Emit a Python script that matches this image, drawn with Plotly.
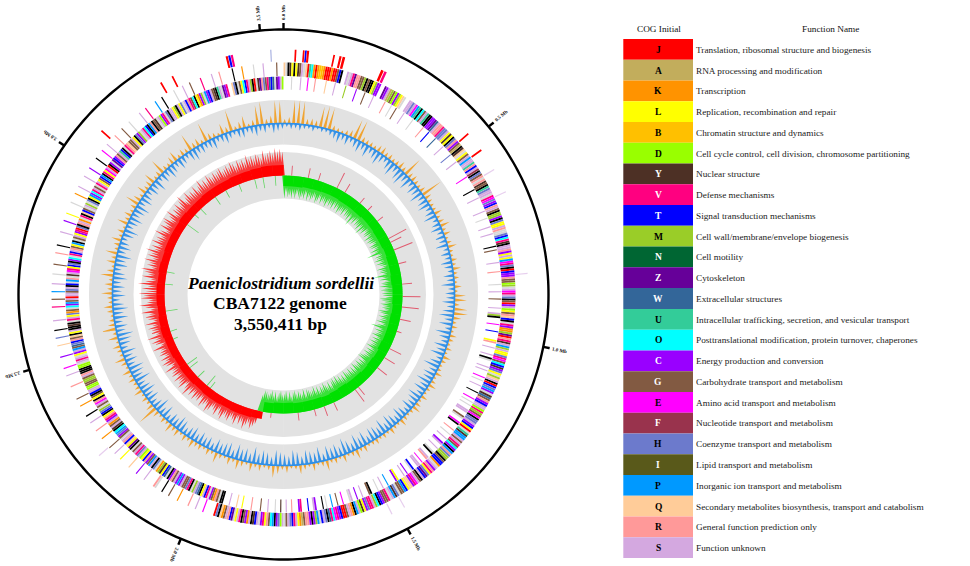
import math
import plotly.graph_objects as go

GENOME_KB = 3550.411
W, H = 970, 566
CX, CY = 283.5, 294.5

# ---------- legend table ----------
cog_letters = list("JAKLBDYVTMNZWUOCGEFHIPQRS")
cog_names = [
    "Translation, ribosomal structure and biogenesis", "RNA processing and modification", "Transcription",
    "Replication, recombination and repair", "Chromatin structure and dynamics",
    "Cell cycle control, cell division, chromosome partitioning", "Nuclear structure", "Defense mechanisms",
    "Signal transduction mechanisms", "Cell wall/membrane/envelope biogenesis", "Cell motility", "Cytoskeleton",
    "Extracellular structures", "Intracellular trafficking, secretion, and vesicular transport",
    "Posttranslational modification, protein turnover, chaperones", "Energy production and conversion",
    "Carbohydrate transport and metabolism", "Amino acid transport and metabolism",
    "Nucleotide transport and metabolism", "Coenzyme transport and metabolism", "Lipid transport and metabolism",
    "Inorganic ion transport and metabolism", "Secondary metabolites biosynthesis, transport and catabolism",
    "General function prediction only", "Function unknown",
]
cog_colors = ["#FF0000", "#C2AD5C", "#FF9300", "#FFFF00", "#FFC000", "#99FF00", "#4D3025", "#FF0080", "#0000FF",
              "#9ACD28", "#006633", "#660099", "#336699", "#33CC99", "#00FFFF", "#9900FF", "#825A42", "#FF00FF",
              "#99334D", "#6C7ACC", "#59591A", "#0099FF", "#FFCC99", "#FF9999", "#D4A8E0"]
cog_light_text = set("YVTNZWCGFI")
extra_colors = {"X": "#000000", "w": "#D8D8D8"}

# ---------- genome position ticks ----------
tick_kb = [0, 500, 1000, 1500, 2000, 2500, 3000, 3500]
tick_text = ["0.0 Mb", "0.5 Mb", "1.0 Mb", "1.5 Mb", "2.0 Mb", "2.5 Mb", "3.0 Mb", "3.5 Mb"]

# ---------- very sparse outermost track: position kb, length kb, class ----------
rna_kb = [28, 47, 52, 57, 118, 133, 141, 235, 243, 483, 531, 3418, 3424, 3430, 3254, 3284, 3077, 3521, 585, 643, 839, 2257, 1516, 1483]
rna_len = [4, 4, 4, 5, 4, 5, 6, 6, 6, 4, 4, 5, 5, 5, 4, 4, 4, 2, 2, 2, 2, 2, 2, 2]
rna_cog = list("JJTJJJJJVJJJTVJJJHSSSSSS")

# ---------- COG classes per 0.5 degree bin, one row per 30 degrees ----------
fwd_rows = [
    "QwXYLXLYGSwQJUOKJKBBKJJJKJJGTX  SwSVZRRGGMXGXXLMCC  ZCSAMGDC",
    "MLQw  SSHSEPUXOGSUXXCCZWSRRVHHSLYLXHRCGAXYQwLGSPSSURTSFXHGRw",
    "RYGXUHSSwVEHCTRSGXMMCXHLLSRwwHTOVYXSSRCLSLPEVHXJTCCRGGDMwSEV",
    "SHXGJCSDLGRQTXwVCKKMZJRVYSPMSLLHVEGOTYCHLwMQSXJTHPCwYWGRCTSS",
    "DVMGEXHHSCTLJwUYPPSGSVGOCXPRHMMXGTTKwSCRVLHZTSXGSEVCQQLTPGGw",
    "HYPSwVGGCTXOMSVVHCLYDSPXKRSGJJTCVEOVWXHSTwPMCXCRRGAKLSVTHSGw",
    "SDHCXPOGRLVCwSTYXSKCGXVSLwZTRSGKQXHJ     E   S   R     K    G",
    "   X   wR     S    C    Q     L   S   G     K    R    S   X   ",
    "  K   G      R     S   E     C     Q   H   X    S      V   G  ",
    " P   S    w    G     R   X      S     C   L     w    K   S    ",
    " S    C     X    E   S     R    G    w      S   V     P   X   ",
    "   w    S   G     V     S   R      X    K     w    S      G   ",
]
rev_rows = [
    "    w    S   E   R     Q    S     M     C    G    S      R   w",
    "  G    S     w      R   T    W     S     H    S         E     ",
    "  X    S       S   w    S   S      X G      S    R      w   S ",
    "  G    S  SMX   E   T    LR  S   S Xw   S S   E w  S   X   E w",
    " w  SS  Gw  EX   R  w  S  CS  S  wX  SR  E SS  Tw  C S   LC  ",
    "  P  S  w   XG   S  C  Sw   E  G  P  w X   CS  T   VC   R  S ",
    " Y  w   S   G    R    L  Q   S   XXwGRKGCwVTSLXWHSMwXVHGGSCPC",
    "SGRCXwWTLYMKwHXSPGCRTLDSHVSGwXZLQTRSwGCHPOXYSGKSCVRLXTHMwGSE",
    "RXLGXTSSDDGGMMGSRXXXDDwSVSwLCSPGWHTRGQXLSXXYXwVSLHKGwOCPGSJS",
    "SGHSXTwPRwYSEVLTHXCOwVTSRGLPXwGSLCVJHXRSKwVXQTGwSMwHXLPCOVSG",
    "wVSLGTPXVLESJXCwZTCRGSUTXwVRQGGSLXHCMwSVOTXPRXGYwSDCVwHXSSLM",
    "XSLHwSTRVGOXLKCMwPCTSGYXUSwZCV  QHXwGLOTVSMXJwYZRHGVWTWwZCSD",
]

# ---------- GC content track: excursion above and below the mean, one value per 1.5 degrees ----------
gc_up = [
    4, 6, 23, 24, 23, 6, 7, 6, 21, 23, 22, 5, 4, 3, 5, 7, 20, 21, 6, 5,
    5, 4, 7, 8, 5, 6, 4, 5, 8, 5, 20, 6, 7, 5, 4, 6, 22, 7, 5, 4,
    4, 8, 4, 6, 10, 4, 7, 3, 5, 9, 4, 3, 6, 4, 8, 4, 5, 3, 7, 3,
    11, 12, 5, 13, 14, 8, 4, 6, 3, 7, 5, 3, 6, 3, 8, 5, 3, 4, 7, 3,
    5, 8, 4, 3, 7, 3, 6, 9, 4, 3, 5, 8, 3, 4, 7, 3, 5, 3, 6, 4,
    3, 7, 4, 10, 5, 3, 8, 3, 6, 4, 11, 5, 3, 8, 3, 5, 9, 4, 3, 7,
    4, 8, 12, 5, 3, 7, 4, 9, 3, 6, 10, 4, 8, 3, 5, 11, 4, 7, 3, 6,
    5, 9, 4, 7, 3, 8, 5, 10, 4, 6, 3, 7, 21, 8, 4, 6, 3, 9, 5, 4,
    7, 4, 9, 3, 6, 11, 4, 5, 8, 3, 10, 4, 15, 7, 5, 3, 6, 9, 4, 5,
    11, 5, 8, 4, 13, 7, 3, 9, 5, 12, 4, 6, 10, 4, 7, 3, 11, 5, 8, 4,
    6, 14, 8, 4, 10, 5, 7, 12, 4, 6, 16, 5, 4, 8, 11, 4, 7, 5, 18, 6,
    8, 4, 20, 7, 5, 3, 11, 6, 22, 4, 7, 12, 3, 6, 20, 23, 5, 8, 23, 22,
]
gc_down = [
    4, 6, 5, 7, 5, 4, 6, 3, 5, 4, 6, 8, 11, 7, 10, 6, 9, 12, 8, 13,
    7, 10, 14, 9, 6, 11, 15, 8, 13, 16, 9, 14, 7, 12, 10, 15, 8, 11, 13, 7,
    10, 14, 6, 9, 12, 7, 11, 8, 13, 6, 10, 7, 12, 9, 6, 11, 8, 14, 7, 10,
    9, 13, 8, 12, 15, 9, 14, 7, 16, 11, 8, 14, 10, 15, 7, 12, 17, 9, 13, 11,
    16, 10, 14, 8, 15, 12, 9, 13, 7, 11, 14, 8, 12, 15, 9, 16, 10, 13, 14, 8,
    15, 11, 16, 9, 13, 17, 10, 14, 12, 15, 8, 16, 11, 13, 15, 9, 14, 16, 10, 12,
    14, 16, 9, 13, 15, 11, 17, 10, 14, 12, 16, 9, 15, 13, 11, 14, 8, 12, 10, 13,
    9, 14, 11, 8, 13, 15, 10, 12, 7, 14, 9, 16, 11, 8, 13, 10, 15, 12, 9, 17,
    11, 14, 16, 9, 13, 10, 15, 8, 12, 14, 17, 10, 13, 9, 15, 11, 16, 12, 8, 14,
    10, 13, 9, 15, 12, 8, 14, 11, 16, 9, 13, 10, 7, 12, 15, 8, 11, 14, 9, 12,
    15, 8, 13, 10, 7, 12, 9, 14, 6, 11, 8, 13, 10, 7, 12, 9, 6, 11, 13, 8,
    10, 7, 9, 12, 6, 8, 11, 7, 5, 9, 10, 6, 8, 11, 7, 9, 5, 10, 8, 6,
]

# ---------- GC skew track: solid band per 5 degrees (negative = green, inward) ----------
skew_band = [
    -17, -17, -16, -16, -15, -15, -16, -16, -16, -15, -15, -16, -16, -15, -16, -16, -17, -16, -16, -15,
    -16, -16, -16, -17, -15, -16, -15, -16, -16, -17, -16, -15, -16, -16, -16, -17, -17, -16, 12, 13,
    13, 12, 13, 13, 12, 13, 13, 12, 13, 13, 14, 13, 12, 13, 13, 12, 13, 12, 13, 13,
    13, 14, 13, 13, 14, 14, 14, 15, 15, 16, 17, 17,
]
# finer spikes per degree
skew_spikes = [
    -23, -17, -22, -20, -23, -19, -23, -18, -21, -23, -20, -22, -17, -23, -19, -22, -20, -18, -23, -21, -17, -22, -19, -20, -23, -18, -21, -19, -22, -17,
    -21, -18, -23, -20, -19, -22, -17, -21, -20, -23, -18, -26, -19, -22, -17, -21, -20, -23, -18, -25, -19, -22, -17, -20, -21, -18, -23, -19, -22, -20,
    -17, -22, -21, -18, -23, -19, -28, -17, -21, -20, -23, -18, -22, -19, -17, -23, -20, -21, -18, -27, -19, -22, -17, -21, -20, -23, -18, -22, -19, -21,
    -20, -17, -23, -21, -18, -22, -19, -20, -17, -23, -21, -18, -22, -19, -20, -23, -17, -21, -27, -18, -22, -19, -20, -23, -17, -21, -18, -22, -19, -20,
    -23, -17, -21, -18, -22, -19, -20, -23, -24, -17, -21, -18, -22, -19, -20, -23, -17, -21, -18, -22, -19, -20, -23, -17, -21, -18, -22, -19, -24, -20,
    -23, -21, -17, -22, -18, -20, -23, -19, -21, -17, -22, -18, -23, -20, -19, -21, -22, -17, -23, -18, -20, -22, -19, -23, -21, -17, -22, -18, -23, -20,
    -19, -23, -21, -17, -22, -18, -23, -20, -19, -21, -22, -17, 14, 17, 20, 15, 18, 22, 16, 19, 14, 21, 17, 15, 20, 18, 16, 22, 19, 14,
    21, 17, 15, 20, 23, 16, 18, 22, 14, 19, 17, 21, 15, 20, 16, 24, 18, 14, 22, 19, 17, 21, 15, 20, 18, 16, 23, 14, 19, 22,
    17, 21, 15, 20, 18, 16, 24, 14, 19, 22, 17, 25, 15, 20, 18, 21, 16, 23, 14, 19, 22, 17, 25, 15, 20, 26, 18, 16, 24, 21,
    26, 19, 23, 17, 27, 20, 15, 24, 18, 22, 26, 16, 21, 19, 25, 17, 23, 20, 26, 18, 22, 16, 24, 19, 21, 17, 25, 20, 15, 23,
    18, 22, 24, 17, 20, 25, 16, 21, 19, 23, 18, 22, 26, 17, 20, 24, 19, 21, 18, 23, 17, 20, 25, 19, 22, 18, 24, 21, 19, 23,
    20, 22, 24, 19, 21, 23, 20, 25, 22, 19, 24, 21, 23, 20, 26, 22, 24, 21, 25, 23, 20, 27, 22, 24, 26, 23, 28, 25, 27, 24,
]
# opposite-direction spikes
skew_red_kb = [39, 118, 168, 263, 306, 394, 444, 513, 611, 631, 671, 740, 838, 897, 947, 1006, 1065, 1154, 1203, 1262, 1391, 1410, 1529, 1578, 1627, 1706, 1834]
skew_red_val = [10, 10, 8, 17, 10, 7, 6, 7, 20, 12, 20, 8, 10, 18, 17, 11, 5, 13, 12, 12, 10, 15, 9, 10, 7, 8, 5]
skew_green_kb = [3511, 3452, 3412, 3333, 3264, 3205, 3116, 3018, 3077, 2771, 2712, 2584, 2485, 2446, 2308, 2288, 2170, 2229, 2150]
skew_green_val = [10, 11, 10, 8, 8, 9, 8, 14, 5, 8, 8, 12, 7, 5, 12, 10, 13, 9, 8]

# ---------- track radii (px-equal radial units) ----------
R_FRAME = 265
R_TICK = 272
R_GC = (150, 194.5, 171.5)
R_SKEW = (96, 142.5, 119)
R_FWD = (218.5, 232)
R_REV = (205, 218)
R_RNA = (233, 245)

color_of = dict(zip(cog_letters, cog_colors))
color_of.update(extra_colors)


def deg(kb):
    return kb / GENOME_KB * 360


fig = go.Figure()


def bars(theta, base, height, width, color, opacity=1.0):
    if not theta:
        return
    if not isinstance(height, (list, tuple)):
        height = [height] * len(theta)
    fig.add_trace(go.Barpolar(theta=theta, r=height, base=base, width=width,
                              marker=dict(color=color, line=dict(width=0), opacity=opacity),
                              hoverinfo="skip", showlegend=False))


def spikes(theta, values, baseline, half_width, fill):
    """Sharp peaks: signed value, positive goes outward from the baseline."""
    ts, rs = [], []
    for t, v in zip(theta, values):
        ts += [t - half_width, t, t + half_width, None]
        rs += [baseline, baseline + v, baseline, None]
    fig.add_trace(go.Scatterpolar(theta=ts, r=rs, mode="lines", fill="toself", fillcolor=fill,
                                  line=dict(width=0), connectgaps=False,
                                  hoverinfo="skip", showlegend=False))


# grey backgrounds
for lo, hi in [(R_GC[0], R_GC[1]), (R_SKEW[0], R_SKEW[1])]:
    bars([90, 270], [lo, lo], [hi - lo, hi - lo], [180.2, 180.2], "#E2E2E2")

# skew band + spikes
n = len(skew_spikes)
for sign, col in [(1, "rgba(255,0,0,0.75)"), (-1, "rgba(0,224,0,0.75)")]:
    th = [(i + 0.5) * 360 / n for i, v in enumerate(skew_spikes) if v * sign > 0]
    vs = [v for v in skew_spikes if v * sign > 0]
    spikes(th, vs, R_SKEW[2], 1.15, col)
n = len(skew_band)
for sign, col in [(1, "#FF0000"), (-1, "#00E000")]:
    th = [(i + 0.5) * 360 / n for i, v in enumerate(skew_band) if v * sign > 0]
    hs = [abs(v) * 0.62 for v in skew_band if v * sign > 0]
    bs = [R_SKEW[2] if sign > 0 else R_SKEW[2] - h for h in hs]
    bars(th, bs, hs, 360 / n + 0.1, col)
bars([deg(k) for k in skew_red_kb], R_SKEW[2], skew_red_val, 0.4, "#E0203C", 0.7)
bars([deg(k) for k in skew_green_kb], [R_SKEW[2] - v for v in skew_green_val], skew_green_val, 0.4, "#2ED02E", 0.7)

# GC content
n = len(gc_up)
spikes([(i + 0.25) * 360 / n for i in range(n)], gc_up, R_GC[2], 0.5, "rgba(240,160,40,0.95)")
n = len(gc_down)
spikes([(i + 0.75) * 360 / n for i in range(n)], [-v for v in gc_down], R_GC[2], 0.55, "rgba(46,143,232,0.95)")
fig.add_trace(go.Scatterpolar(theta=list(range(0, 361)), r=[R_GC[2] - 0.5] * 361, mode="lines",
                              line=dict(color="#2E8FE8", width=1.6), hoverinfo="skip", showlegend=False))


# COG tracks
def cog_track(rows, radii, per_row_span=30.0):
    by_letter = {}
    for i, row in enumerate(rows):
        bin_w = per_row_span / len(row)
        for j, c in enumerate(row):
            if c == " ":
                continue
            isolated = (j == 0 or row[j - 1] == " ") and (j == len(row) - 1 or row[j + 1] == " ")
            th, ws = by_letter.setdefault(c, ([], []))
            th.append((i + (j + 0.5) / len(row)) * per_row_span)
            ws.append(bin_w * 0.62 if isolated else bin_w * 0.96)
    for c, (th, ws) in by_letter.items():
        bars(th, radii[0], radii[1] - radii[0], ws, color_of[c])


cog_track(fwd_rows, R_FWD)
cog_track(rev_rows, R_REV)

for kb, ln, c in zip(rna_kb, rna_len, rna_cog):
    col = color_of[c]
    op = 1.0 if c in "JTV" else 0.55
    bars([deg(kb)], R_RNA[0], R_RNA[1] - R_RNA[0], max(deg(ln), 0.3), col, op)

# frame circle and ticks
fig.add_trace(go.Scatterpolar(theta=list(range(0, 361)), r=[R_FRAME] * 361, mode="lines",
                              line=dict(color="black", width=2.4), hoverinfo="skip", showlegend=False))
for kb in tick_kb:
    fig.add_trace(go.Scatterpolar(theta=[deg(kb)] * 2, r=[R_FRAME, R_TICK], mode="lines",
                                  line=dict(color="black", width=2.4), hoverinfo="skip", showlegend=False))

annotations = []
shapes = []


def note(px, py, text, size, **kw):
    annotations.append(dict(x=px / W, y=1 - py / H, xref="paper", yref="paper", text=text, showarrow=False,
                            font=dict(family="Liberation Serif", size=size, color=kw.pop("color", "#111111")), **kw))


# tick labels
for kb, t in zip(tick_kb, tick_text):
    a = deg(kb)
    px = CX + 282 * math.sin(math.radians(a))
    py = CY - 282 * math.cos(math.radians(a))
    note(px, py, "<b>%s</b>" % t, 5, textangle=a - 90, xanchor="center", yanchor="middle")

# centre title
note(280, 282.5, "<b><i>Paeniclostridium sordellii</i></b>", 17.5, xanchor="center", yanchor="middle", color="black")
note(280, 303, "<b>CBA7122 genome</b>", 17.5, xanchor="center", yanchor="middle", color="black")
note(280, 323.5, "<b>3,550,411 bp</b>", 17.5, xanchor="center", yanchor="middle", color="black")

# legend table
ROW_TOP, ROW_H, BOX_L, BOX_R, TEXT_L = 39.0, 20.76, 623.3, 693.0, 693.5
note(658.5, 29, "COG Initial", 9.25, xanchor="center", yanchor="middle")
note(830, 29, "Function Name", 9.25, xanchor="center", yanchor="middle")
for i, (c, name, col) in enumerate(zip(cog_letters, cog_names, cog_colors)):
    y0 = ROW_TOP + i * ROW_H
    shapes.append(dict(type="rect", xref="paper", yref="paper", x0=BOX_L / W, x1=BOX_R / W, y0=1 - y0 / H,
                       y1=1 - (y0 + ROW_H) / H, fillcolor=col, line=dict(width=0), layer="below"))
    note((BOX_L + BOX_R) / 2, y0 + ROW_H / 2 + 0.4, "<b>%s</b>" % c, 9.5, xanchor="center", yanchor="middle",
         color="white" if c in cog_light_text else "black")
    note(TEXT_L, y0 + ROW_H / 2 + 0.4, name, 9.25, xanchor="left", yanchor="middle", color="#222222")

RMAX = H - CY
fig.update_layout(
    width=W, height=H, autosize=False, margin=dict(l=0, r=0, t=0, b=0), paper_bgcolor="white",
    plot_bgcolor="white", showlegend=False, annotations=annotations, shapes=shapes,
    polar=dict(
        domain=dict(x=[(CX - RMAX) / W, (CX + RMAX) / W], y=[0, 2 * RMAX / H]),
        bgcolor="rgba(0,0,0,0)", barmode="overlay",
        radialaxis=dict(visible=False, range=[0, RMAX]),
        angularaxis=dict(visible=False, rotation=90, direction="clockwise", thetaunit="degrees"),
    ),
)
fig.write_html("out.html", config={"displayModeBar": False},
               post_script="document.body.style.margin='0';")
